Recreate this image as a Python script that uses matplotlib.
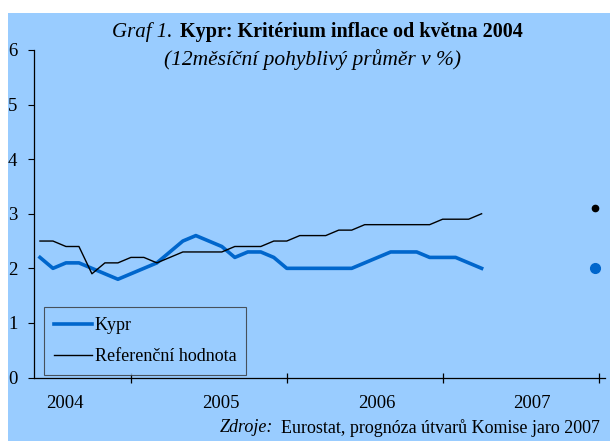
import numpy as np
import matplotlib.pyplot as plt
from matplotlib.patches import Rectangle

plt.rcParams['font.family'] = ['Liberation Serif', 'DejaVu Serif']

# data: monthly values, May 2004 - Mar 2007
kypr = [2.2, 2.0, 2.1, 2.1, 2.0, 1.9, 1.8, 1.9, 2.0, 2.1, 2.3, 2.5,
        2.6, 2.5, 2.4, 2.2, 2.3, 2.3, 2.2, 2.0, 2.0, 2.0, 2.0, 2.0,
        2.0, 2.1, 2.2, 2.3, 2.3, 2.3, 2.2, 2.2, 2.2, 2.1, 2.0]
referencni = [2.5, 2.5, 2.4, 2.4, 1.9, 2.1, 2.1, 2.2, 2.2, 2.1, 2.2, 2.3,
              2.3, 2.3, 2.3, 2.4, 2.4, 2.4, 2.5, 2.5, 2.6, 2.6, 2.6, 2.7,
              2.7, 2.8, 2.8, 2.8, 2.8, 2.8, 2.8, 2.9, 2.9, 2.9, 3.0]
# prognoza konec 2007
kypr_prog = 2.0
ref_prog = 3.1
prog_pos = 42.7
years = ['2004', '2005', '2006', '2007']
year_pos = [1.9, 13.9, 25.9, 37.9]
tick_pos = [7.0, 19.0, 31.0, 43.0]

bg = '#99ccff'
blue = '#0066cc'

W, H = 610, 441
fig = plt.figure(figsize=(W / 100, H / 100), dpi=100)
fig.patch.set_facecolor('white')
fig.patches.append(Rectangle((8 / W, 0), 1, 1 - 13 / H, transform=fig.transFigure,
                             facecolor=bg, edgecolor='none', zorder=-10))

ax = fig.add_axes([34 / W, 1 - 377.5 / H, (605 - 34) / W, (377.5 - 50) / H])
ax.patch.set_alpha(0)

x = np.arange(len(kypr))
ax.plot(x, kypr, color=blue, lw=2.6, label='Kypr')
ax.plot(x, referencni, color='black', lw=1.0, label='Referenční hodnota')
ax.plot([prog_pos], [kypr_prog], 'o', color=blue, ms=7)
ax.plot([prog_pos], [ref_prog], 'o', color='black', ms=4.5)

ax.set_xlim(-0.46, 43.5)
ax.set_ylim(0, 6)
for s in ['top', 'right']:
    ax.spines[s].set_visible(False)
ax.spines['left'].set_linewidth(0.9)
ax.spines['bottom'].set_linewidth(0.9)

ax.set_yticks(range(0, 7))
ax.tick_params(axis='y', direction='out', length=4, width=0.8, labelsize=13.5, pad=8)
ax.set_xticks(tick_pos)
ax.set_xticklabels([])
ax.tick_params(axis='x', direction='inout', length=7, width=0.9)

for xp, yr in zip(year_pos, years):
    ax.text(xp, -0.078, yr, transform=ax.get_xaxis_transform(), ha='center', va='center',
            fontsize=13.5)

leg = ax.legend(loc='lower left', bbox_to_anchor=(10 / 571, 0.007), frameon=True,
                fancybox=False, fontsize=13, handlelength=2.1, handletextpad=0.15,
                borderpad=0.55, labelspacing=0.8, borderaxespad=0)
leg.get_frame().set_facecolor(bg)
leg.get_frame().set_edgecolor('#333333')
leg.get_frame().set_linewidth(0.8)

fig.text(172 / W, 1 - 32 / H, 'Graf 1.', style='italic', fontsize=15, ha='right', va='center')
fig.text(180 / W, 1 - 32 / H, 'Kypr: Kritérium inflace od května 2004', weight='bold',
         fontsize=14.5, ha='left', va='center')
fig.text(312 / W, 1 - 60 / H, '(12měsíční pohyblivý průměr v %)', style='italic',
         fontsize=15.5, ha='center', va='center')

fig.text(220 / W, 1 - 428 / H, 'Zdroje:', style='italic', fontsize=13, ha='left', va='center')
fig.text(281 / W, 1 - 428 / H, 'Eurostat, prognóza útvarů Komise jaro 2007', fontsize=13,
         ha='left', va='center')

fig.savefig('out.png', dpi=100)
